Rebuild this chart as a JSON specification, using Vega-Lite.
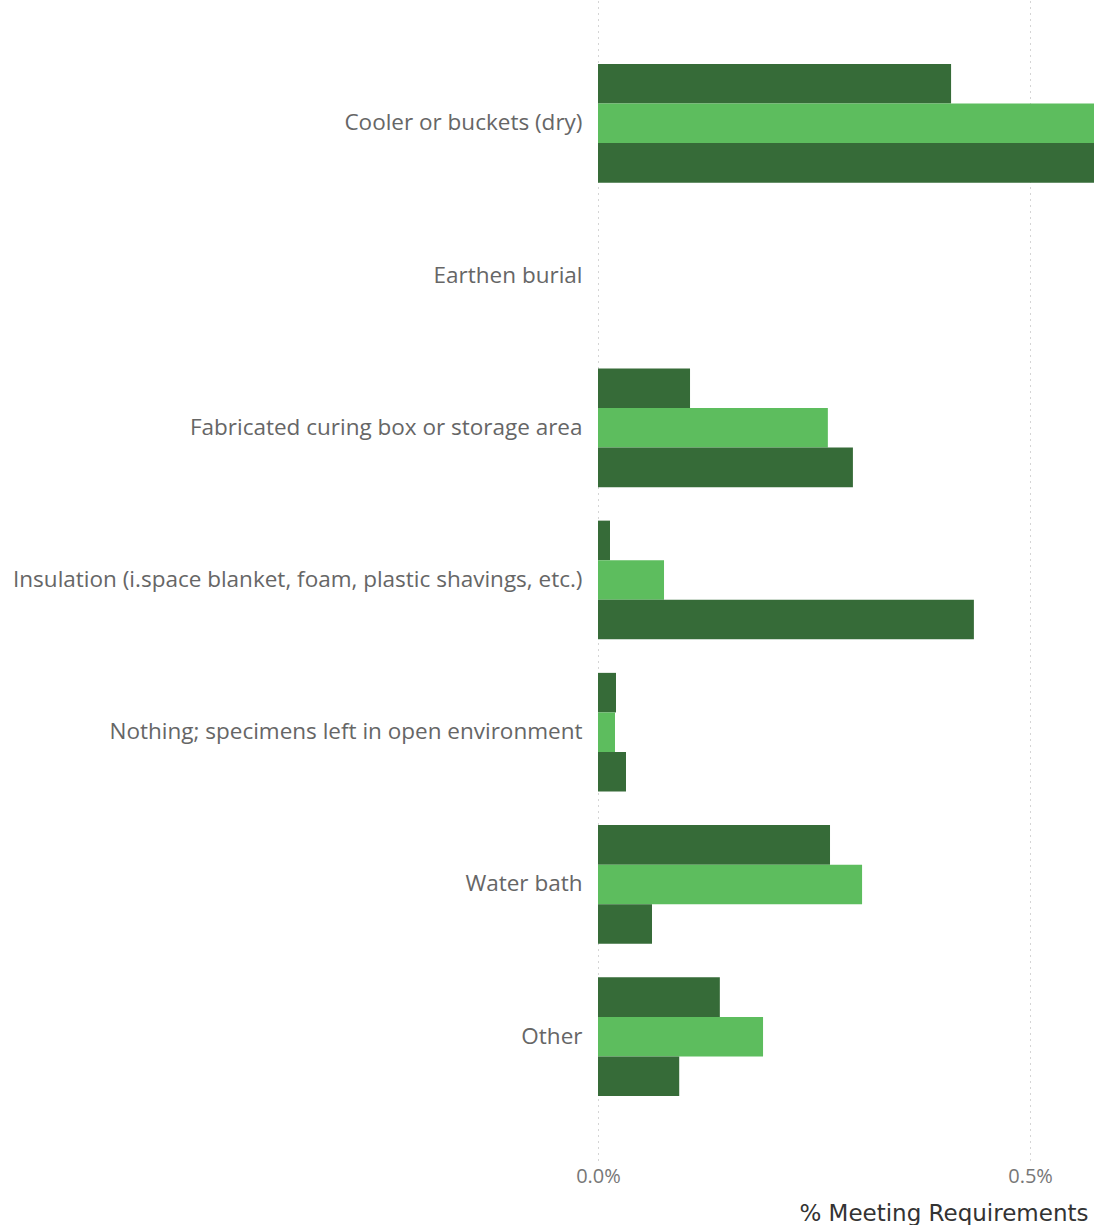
{
  "$schema": "https://vega.github.io/schema/vega-lite/v6.json",
  "autosize": "none",
  "width": 496,
  "height": 1160,
  "padding": {"left": 598, "top": 0, "right": 0, "bottom": 65},
  "background": "white",
  "config": {"view": {"stroke": null}},
  "data": {
    "values": [
      {"category": "Cooler or buckets (dry)", "series": "A", "value": 0.004086},
      {"category": "Cooler or buckets (dry)", "series": "B", "value": 0.0062},
      {"category": "Cooler or buckets (dry)", "series": "C", "value": 0.0065},
      {"category": "Earthen burial", "series": "A", "value": 0},
      {"category": "Earthen burial", "series": "B", "value": 0},
      {"category": "Earthen burial", "series": "C", "value": 0},
      {"category": "Fabricated curing box or storage area", "series": "A", "value": 0.001065},
      {"category": "Fabricated curing box or storage area", "series": "B", "value": 0.00266},
      {"category": "Fabricated curing box or storage area", "series": "C", "value": 0.00295},
      {"category": "Insulation (i.space blanket, foam, plastic shavings, etc.)", "series": "A", "value": 0.000139},
      {"category": "Insulation (i.space blanket, foam, plastic shavings, etc.)", "series": "B", "value": 0.000764},
      {"category": "Insulation (i.space blanket, foam, plastic shavings, etc.)", "series": "C", "value": 0.00435},
      {"category": "Nothing; specimens left in open environment", "series": "A", "value": 0.000208},
      {"category": "Nothing; specimens left in open environment", "series": "B", "value": 0.000197},
      {"category": "Nothing; specimens left in open environment", "series": "C", "value": 0.000324},
      {"category": "Water bath", "series": "A", "value": 0.002685},
      {"category": "Water bath", "series": "B", "value": 0.003056},
      {"category": "Water bath", "series": "C", "value": 0.000625},
      {"category": "Other", "series": "A", "value": 0.00141},
      {"category": "Other", "series": "B", "value": 0.00191},
      {"category": "Other", "series": "C", "value": 0.00094}
    ]
  },
  "mark": {"type": "bar", "clip": true},
  "encoding": {
    "y": {
      "field": "category",
      "type": "nominal",
      "sort": null,
      "scale": {"paddingInner": 0.22, "paddingOuter": 0.42},
      "axis": {
        "title": null,
        "domain": false,
        "ticks": false,
        "labelPadding": 16,
        "labelFontSize": 22.5,
        "labelFont": "Open Sans",
        "labelColor": "#666666",
        "labelLimit": 700
      }
    },
    "yOffset": {"field": "series", "type": "nominal", "scale": {"paddingInner": 0, "paddingOuter": 0}},
    "x": {
      "field": "value",
      "type": "quantitative",
      "scale": {"domain": [0, 0.00574], "nice": false},
      "axis": {
        "values": [0, 0.005],
        "format": ".1%",
        "title": "% Meeting Requirements",
        "titleAnchor": "end",
        "titleAlign": "right",
        "titleBaseline": "alphabetic",
        "titleX": 490,
        "titleY": 60,
        "titleFontSize": 23,
        "titleFont": "DejaVu Sans",
        "titleFontWeight": "normal",
        "titleColor": "#333333",
        "domain": false,
        "ticks": false,
        "labelFontSize": 20,
        "labelFont": "Open Sans",
        "labelColor": "#777777",
        "labelPadding": 6,
        "labelFlush": false,
        "grid": true,
        "gridColor": "#aaaaaa",
        "gridDash": [1, 5],
        "gridWidth": 1
      }
    },
    "color": {
      "field": "series",
      "type": "nominal",
      "scale": {"domain": ["A", "B", "C"], "range": ["#366b38", "#5dbd5e", "#366b38"]},
      "legend": null
    }
  }
}
